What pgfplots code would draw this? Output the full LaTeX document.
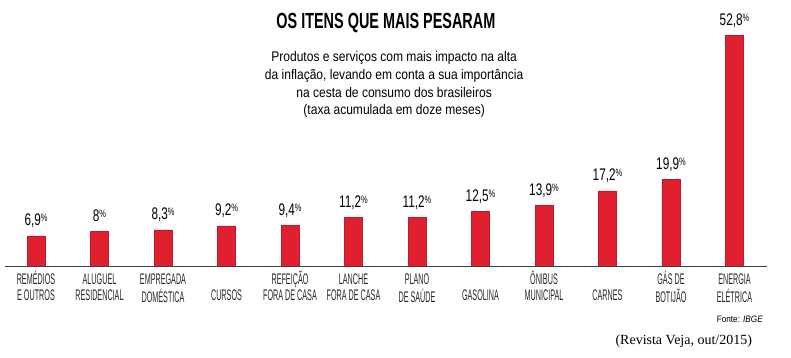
\documentclass[border=0pt]{standalone}
\usepackage{pgfplots}
\pgfplotsset{compat=1.18}
\usepackage{fontspec}
\setmainfont{Liberation Serif}
\newfontfamily\titlefont[FakeStretch=0.66]{Liberation Sans}
\newfontfamily\tickfont[FakeStretch=0.47]{Liberation Sans}
\newfontfamily\valfont[FakeStretch=0.70]{Liberation Sans}
\newfontfamily\subfont[FakeStretch=0.86]{Liberation Sans}
\newfontfamily\srcfont[FakeStretch=0.88]{Liberation Sans}
\definecolor{barred}{RGB}{224,32,48}
\newcommand{\lbl}[2]{\begin{tabular}[t]{@{}c@{}}#1\\#2\end{tabular}}
\begin{document}
\begin{tikzpicture}
\begin{axis}[
  scale only axis, width=593.25pt, height=267.75pt,
  xmin=-0.567, xmax=11.89, ymin=-20.8, ymax=60.8,
  axis line style={draw=none},
  ytick=\empty,
  xtick={0,1,2,3,4,5,6,7,8,9,10,11},
  major tick length=0pt,
  xticklabels={
    {\lbl{REMÉDIOS}{E OUTROS}},
    {\lbl{ALUGUEL}{RESIDENCIAL}},
    {\lbl{EMPREGADA}{DOMÉSTICA}},
    {\lbl{}{CURSOS}},
    {\lbl{REFEIÇÃO}{FORA DE CASA}},
    {\lbl{LANCHE}{FORA DE CASA}},
    {\lbl{PLANO}{DE SAÚDE}},
    {\lbl{}{GASOLINA}},
    {\lbl{ÔNIBUS}{MUNICIPAL}},
    {\lbl{}{CARNES}},
    {\lbl{GÁS DE}{BOTIJÃO}},
    {\lbl{ENERGIA}{ELÉTRICA}}},
  xticklabel style={font=\tickfont\fontsize{11.5}{12}\selectfont, anchor=base, yshift=54.75pt, inner sep=0pt, text=black!85},
  clip=false,
  ybar, bar width=13.5pt,
  nodes near coords={\pgfmathprintnumber[use comma,fixed,precision=1,assume math mode=true]{\pgfplotspointmeta}\raisebox{3pt}{\fontsize{8}{8}\selectfont\%}},
  every node near coord/.append style={font=\valfont\fontsize{12.6}{13}\selectfont, anchor=base, yshift=7.5pt, inner sep=0pt, text=black},
]
\addplot[fill=barred, draw=barred!85!black, line width=0.3pt] coordinates {
  (0,6.9) (1,8.0) (2,8.3) (3,9.2) (4,9.4) (5,11.2)
  (6,11.2) (7,12.5) (8,13.9) (9,17.2) (10,19.9) (11,52.8)};
\draw[black!75, line width=0.9pt] (axis cs:-0.488,0) -- (axis cs:11.51,0);
\node[anchor=base, inner sep=0pt, font=\titlefont\bfseries\fontsize{16.4}{18}\selectfont] at (axis cs:5.51,54.4) {OS ITENS QUE MAIS PESARAM};
\node[anchor=base, inner sep=0pt, font=\subfont\fontsize{10.5}{12}\selectfont] at (axis cs:5.64,46.86) {Produtos e serviços com mais impacto na alta};
\node[anchor=base, inner sep=0pt, font=\subfont\fontsize{10.5}{12}\selectfont] at (axis cs:5.64,42.74) {da inflação, levando em conta a sua importância};
\node[anchor=base, inner sep=0pt, font=\subfont\fontsize{10.5}{12}\selectfont] at (axis cs:5.64,38.63) {na cesta de consumo dos brasileiros};
\node[anchor=base, inner sep=0pt, font=\subfont\fontsize{10.5}{12}\selectfont] at (axis cs:5.64,34.74) {(taxa acumulada em doze meses)};
\node[anchor=base east, inner sep=0pt, font=\srcfont\fontsize{7}{8}\selectfont] at (axis cs:11.45,-12.8) {Fonte: \textit{IBGE}};
\node[anchor=base east, inner sep=0pt, font=\fontsize{10.5}{12}\selectfont] at (axis cs:11.28,-17.83) {(Revista Veja, out/2015)};
\path (rel axis cs:0,0) rectangle (rel axis cs:1,1);
\end{axis}
\end{tikzpicture}
\end{document}
